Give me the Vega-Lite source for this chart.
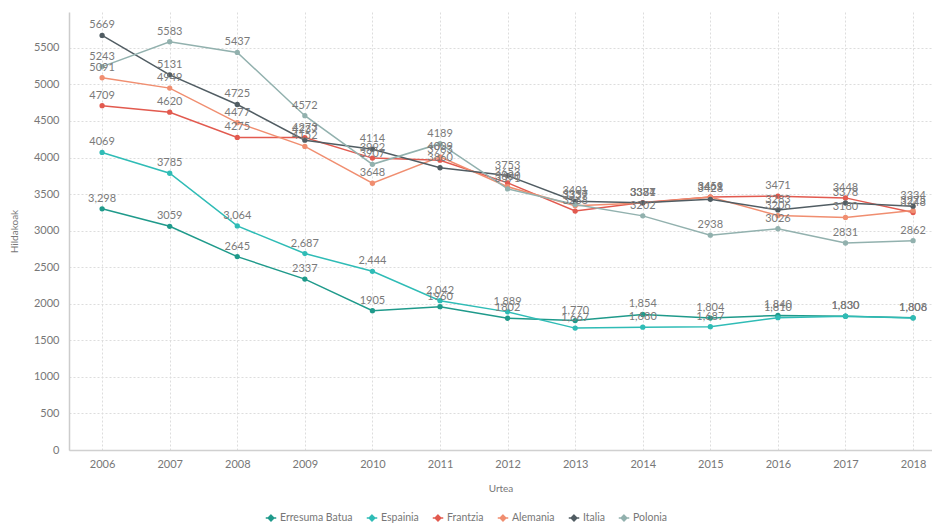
{
  "$schema": "https://vega.github.io/schema/vega-lite/v6.json",
  "autosize": "none",
  "width": 863,
  "height": 438,
  "padding": {"left": 69, "top": 12, "right": 0, "bottom": 75},
  "background": "white",
  "config": {
    "font": "Lato",
    "view": {"stroke": null},
    "axis": {"labelColor": "#777777", "titleColor": "#777777", "labelFont": "Lato", "titleFont": "Lato", "labelFontSize": 11, "titleFontSize": 10, "titleFontWeight": "normal", "domainColor": "#cccccc", "domainWidth": 1.5, "gridColor": "#dddddd", "gridDash": [2, 2], "ticks": false}
  },
  "data": {"values": [
    {"year": 2006, "country": "Erresuma Batua", "value": 3298, "label": "3,298"},
    {"year": 2007, "country": "Erresuma Batua", "value": 3059, "label": "3059"},
    {"year": 2008, "country": "Erresuma Batua", "value": 2645, "label": "2645"},
    {"year": 2009, "country": "Erresuma Batua", "value": 2337, "label": "2337"},
    {"year": 2010, "country": "Erresuma Batua", "value": 1905, "label": "1905"},
    {"year": 2011, "country": "Erresuma Batua", "value": 1960, "label": "1960"},
    {"year": 2012, "country": "Erresuma Batua", "value": 1802, "label": "1802"},
    {"year": 2013, "country": "Erresuma Batua", "value": 1770, "label": "1,770"},
    {"year": 2014, "country": "Erresuma Batua", "value": 1854, "label": "1,854"},
    {"year": 2015, "country": "Erresuma Batua", "value": 1804, "label": "1,804"},
    {"year": 2016, "country": "Erresuma Batua", "value": 1840, "label": "1,840"},
    {"year": 2017, "country": "Erresuma Batua", "value": 1830, "label": "1,830"},
    {"year": 2018, "country": "Erresuma Batua", "value": 1808, "label": "1,808"},
    {"year": 2006, "country": "Espainia", "value": 4069, "label": "4069"},
    {"year": 2007, "country": "Espainia", "value": 3785, "label": "3785"},
    {"year": 2008, "country": "Espainia", "value": 3064, "label": "3,064"},
    {"year": 2009, "country": "Espainia", "value": 2687, "label": "2,687"},
    {"year": 2010, "country": "Espainia", "value": 2444, "label": "2,444"},
    {"year": 2011, "country": "Espainia", "value": 2042, "label": "2,042"},
    {"year": 2012, "country": "Espainia", "value": 1889, "label": "1,889"},
    {"year": 2013, "country": "Espainia", "value": 1667, "label": "1,667"},
    {"year": 2014, "country": "Espainia", "value": 1680, "label": "1,680"},
    {"year": 2015, "country": "Espainia", "value": 1687, "label": "1,687"},
    {"year": 2016, "country": "Espainia", "value": 1810, "label": "1,810"},
    {"year": 2017, "country": "Espainia", "value": 1830, "label": "1,830"},
    {"year": 2018, "country": "Espainia", "value": 1806, "label": "1,806"},
    {"year": 2006, "country": "Frantzia", "value": 4709, "label": "4709"},
    {"year": 2007, "country": "Frantzia", "value": 4620, "label": "4620"},
    {"year": 2008, "country": "Frantzia", "value": 4275, "label": "4275"},
    {"year": 2009, "country": "Frantzia", "value": 4273, "label": "4273"},
    {"year": 2010, "country": "Frantzia", "value": 3992, "label": "3992"},
    {"year": 2011, "country": "Frantzia", "value": 3963, "label": "3963"},
    {"year": 2012, "country": "Frantzia", "value": 3653, "label": "3653"},
    {"year": 2013, "country": "Frantzia", "value": 3268, "label": "3268"},
    {"year": 2014, "country": "Frantzia", "value": 3384, "label": "3384"},
    {"year": 2015, "country": "Frantzia", "value": 3461, "label": "3461"},
    {"year": 2016, "country": "Frantzia", "value": 3471, "label": "3471"},
    {"year": 2017, "country": "Frantzia", "value": 3448, "label": "3448"},
    {"year": 2018, "country": "Frantzia", "value": 3248, "label": "3248"},
    {"year": 2006, "country": "Alemania", "value": 5091, "label": "5091"},
    {"year": 2007, "country": "Alemania", "value": 4949, "label": "4949"},
    {"year": 2008, "country": "Alemania", "value": 4477, "label": "4477"},
    {"year": 2009, "country": "Alemania", "value": 4152, "label": "4152"},
    {"year": 2010, "country": "Alemania", "value": 3648, "label": "3648"},
    {"year": 2011, "country": "Alemania", "value": 4009, "label": "4009"},
    {"year": 2012, "country": "Alemania", "value": 3600, "label": "3600"},
    {"year": 2013, "country": "Alemania", "value": 3339, "label": "3339"},
    {"year": 2014, "country": "Alemania", "value": 3377, "label": "3377"},
    {"year": 2015, "country": "Alemania", "value": 3459, "label": "3459"},
    {"year": 2016, "country": "Alemania", "value": 3206, "label": "3206"},
    {"year": 2017, "country": "Alemania", "value": 3180, "label": "3180"},
    {"year": 2018, "country": "Alemania", "value": 3275, "label": "3275"},
    {"year": 2006, "country": "Italia", "value": 5669, "label": "5669"},
    {"year": 2007, "country": "Italia", "value": 5131, "label": "5131"},
    {"year": 2008, "country": "Italia", "value": 4725, "label": "4725"},
    {"year": 2009, "country": "Italia", "value": 4237, "label": "4237"},
    {"year": 2010, "country": "Italia", "value": 4114, "label": "4114"},
    {"year": 2011, "country": "Italia", "value": 3860, "label": "3860"},
    {"year": 2012, "country": "Italia", "value": 3753, "label": "3753"},
    {"year": 2013, "country": "Italia", "value": 3401, "label": "3401"},
    {"year": 2014, "country": "Italia", "value": 3381, "label": "3381"},
    {"year": 2015, "country": "Italia", "value": 3428, "label": "3428"},
    {"year": 2016, "country": "Italia", "value": 3283, "label": "3283"},
    {"year": 2017, "country": "Italia", "value": 3378, "label": "3378"},
    {"year": 2018, "country": "Italia", "value": 3334, "label": "3334"},
    {"year": 2006, "country": "Polonia", "value": 5243, "label": "5243"},
    {"year": 2007, "country": "Polonia", "value": 5583, "label": "5583"},
    {"year": 2008, "country": "Polonia", "value": 5437, "label": "5437"},
    {"year": 2009, "country": "Polonia", "value": 4572, "label": "4572"},
    {"year": 2010, "country": "Polonia", "value": 3907, "label": "3907"},
    {"year": 2011, "country": "Polonia", "value": 4189, "label": "4189"},
    {"year": 2012, "country": "Polonia", "value": 3571, "label": "3571"},
    {"year": 2013, "country": "Polonia", "value": 3357, "label": "3357"},
    {"year": 2014, "country": "Polonia", "value": 3202, "label": "3202"},
    {"year": 2015, "country": "Polonia", "value": 2938, "label": "2938"},
    {"year": 2016, "country": "Polonia", "value": 3026, "label": "3026"},
    {"year": 2017, "country": "Polonia", "value": 2831, "label": "2831"},
    {"year": 2018, "country": "Polonia", "value": 2862, "label": "2862"}
  ]},
  "encoding": {
    "x": {"field": "year", "type": "quantitative", "scale": {"domain": [2005.51, 2018.28], "nice": false, "zero": false},
      "axis": {"title": "Urtea", "values": [2006, 2007, 2008, 2009, 2010, 2011, 2012, 2013, 2014, 2015, 2016, 2017, 2018], "format": "d", "labelPadding": 8, "titlePadding": 14, "domainColor": "#d0d0d0"}},
    "y": {"field": "value", "type": "quantitative", "scale": {"domain": [0, 5990], "nice": false},
      "axis": {"title": "Hildakoak", "format": "d", "values": [0, 500, 1000, 1500, 2000, 2500, 3000, 3500, 4000, 4500, 5000, 5500], "labelPadding": 10, "titlePadding": 14}},
    "color": {"field": "country", "type": "nominal",
      "scale": {"domain": ["Erresuma Batua", "Espainia", "Frantzia", "Alemania", "Italia", "Polonia"], "range": ["#1f9a8b", "#2fbcb6", "#e25a4f", "#f08e70", "#515d63", "#92b1ae"]},
      "legend": {"orient": "none", "legendX": 196, "legendY": 500, "direction": "horizontal", "title": null, "labelColor": "#777777", "labelFontSize": 10.5, "labelFont": "Lato", "symbolType": "M-1,0L1,0M0,-0.55L0.55,0L0,0.55L-0.55,0Z", "symbolSize": 110, "symbolStrokeWidth": 1.5, "columnPadding": 10, "labelOffset": 3}}
  },
  "layer": [
    {"mark": {"type": "line", "strokeWidth": 1.5}},
    {"mark": {"type": "point", "filled": true, "size": 28, "opacity": 1}},
    {"mark": {"type": "text", "dy": -10, "fontSize": 11, "color": "#7a7a7a", "font": "Lato"},
     "encoding": {"text": {"field": "label"}, "color": {"value": "#7a7a7a"}}}
  ]
}
